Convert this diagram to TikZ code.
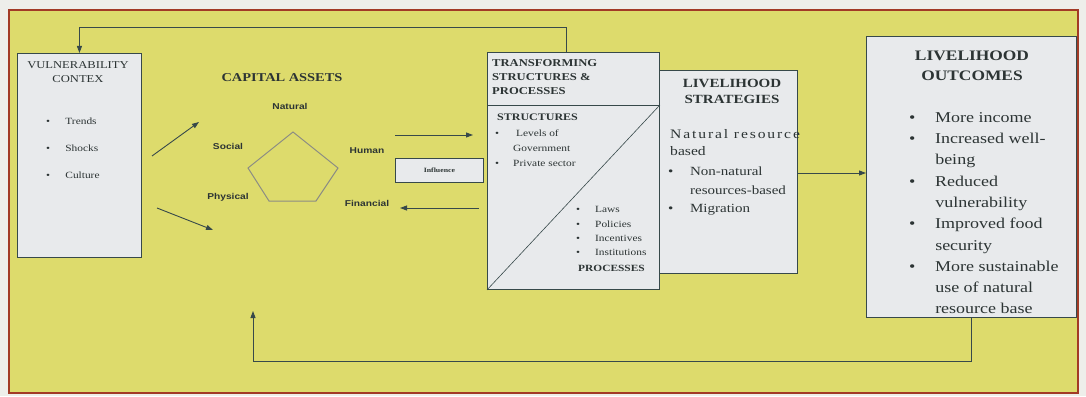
\documentclass[tikz,border=0pt]{standalone}
\usepackage{fontspec}
\setmainfont{Liberation Serif}
\setsansfont{Liberation Sans}
\usepackage{graphicx}
\usetikzlibrary{arrows.meta}
\definecolor{bgout}{HTML}{EEEEEA}
\definecolor{yel}{HTML}{DDDB6C}
\definecolor{boxf}{HTML}{E8EAEC}
\definecolor{linec}{HTML}{37494A}
\definecolor{txtc}{HTML}{2C3434}
\definecolor{framec}{HTML}{A23A26}
\definecolor{pentc}{HTML}{8C8C84}
\newcommand\xs[2][1.2]{\scalebox{#1}[1]{#2}}
\begin{document}
\begin{tikzpicture}[x=1pt,y=-1pt,
  box/.style={draw=linec,fill=boxf,line width=0.9pt,inner sep=0pt,anchor=north west},
  conn/.style={draw=linec,line width=0.9pt},
  arr/.style={conn,-{Triangle[length=7pt,width=5pt]}},
  txt/.style={text=txtc,inner sep=0pt},
  lbl/.style={txt,font=\sffamily\bfseries\fontsize{8.5}{10}\selectfont}]
\useasboundingbox (0,0) rectangle (1086,396);
\fill[bgout] (0,0) rectangle (1086,396);
\filldraw[fill=yel,draw=framec,line width=1.5pt] (9,10) rectangle (1078,393);

% boxes
\node[box,minimum width=124pt,minimum height=204pt] (vc) at (17,53) {};
\node[box,minimum width=138pt,minimum height=203pt] (ls) at (659,70) {};
\node[box,minimum width=172pt,minimum height=237pt] (ts) at (487,52) {};
\node[box,minimum width=210pt,minimum height=281pt] (lo) at (866,36) {};
\node[box,minimum width=88pt,minimum height=24pt,text=txtc,font=\bfseries\fontsize{6.5}{8}\selectfont] (inf) at (395,158) {\xs{Influence}};

% transforming box divisions
\coordinate (divy) at (0,105);
\draw[conn] (ts.west |- divy) -- (ts.east |- divy);
\draw[conn,line width=0.6pt] (ts.south west) -- (ts.east |- divy);

% pentagon
\draw[pentc,line width=1pt] (293,132) -- (338,168) -- (316,201) -- (269,201) -- (248,168) -- cycle;

% texts
\node[txt,anchor=north,font=\fontsize{10.5}{14}\selectfont] (vct) at (78,58.7)
  {\xs{\begin{tabular}{@{}c@{}}VULNERABILITY\\CONTEX\end{tabular}}};
\node[txt,anchor=north west,font=\fontsize{9.5}{27}\selectfont] (vcb) at (46,105)
  {\xs{\begin{tabular}{@{}p{16pt}@{}l@{}}\textbullet&Trends\\\textbullet&Shocks\\\textbullet&Culture\end{tabular}}};

\node[txt,font=\bfseries\fontsize{12}{14}\selectfont] (cap) at (282,78) {\xs{CAPITAL ASSETS}};
\node[lbl] (nat) at (290,106) {\xs{Natural}};
\node[lbl] (soc) at (228,146) {\xs{Social}};
\node[lbl] (hum) at (367,151) {\xs{Human}};
\node[lbl] (phy) at (228,197) {\xs{Physical}};
\node[lbl] (fin) at (367,203) {\xs{Financial}};

\node[txt,anchor=north west,font=\bfseries\fontsize{10.5}{14}\selectfont] (tst) at (492,56.4)
  {\xs{\begin{tabular}{@{}l@{}}TRANSFORMING\\STRUCTURES \&\\PROCESSES\end{tabular}}};
\node[txt,anchor=base west,font=\bfseries\fontsize{10}{12}\selectfont] (str) at (497,120.6) {\xs{STRUCTURES}};
\node[txt,anchor=north west,font=\fontsize{9.5}{15}\selectfont] (strb) at (495,126)
  {\xs{\begin{tabular}{@{}p{15pt}@{}l@{}}\textbullet&\ Levels of\\&Government\\\textbullet&Private sector\end{tabular}}};
\node[txt,anchor=north west,font=\fontsize{9.5}{14.3}\selectfont] (prb) at (576,202.5)
  {\xs{\begin{tabular}{@{}p{15.8pt}@{}l@{}}\textbullet&Laws\\\textbullet&Policies\\\textbullet&Incentives\\\textbullet&Institutions\end{tabular}}};
\node[txt,anchor=base west,font=\bfseries\fontsize{9.5}{12}\selectfont] (prc) at (578,271.3) {\xs{PROCESSES}};

\node[txt,anchor=north,font=\bfseries\fontsize{12.5}{16}\selectfont] (lst) at (732,76.2)
  {\xs{\begin{tabular}{@{}c@{}}LIVELIHOOD\\STRATEGIES\end{tabular}}};
\node[txt,anchor=north west,font=\fontsize{13}{16.7}\selectfont] (lsn) at (670,126.8)
  {\xs{\begin{tabular}{@{}l@{}}{\addfontfeature{LetterSpace=12}Natural resource}\\based\end{tabular}}};
\node[txt,anchor=north west,font=\fontsize{12.5}{18.5}\selectfont] (lsb) at (668,162.5)
  {\xs{\begin{tabular}{@{}p{18.3pt}@{}l@{}}\textbullet&Non-natural\\&resources-based\\\textbullet&Migration\end{tabular}}};

\node[txt,anchor=north,font=\bfseries\fontsize{14.5}{20}\selectfont] (lot) at (972,45.8)
  {\xs{\begin{tabular}{@{}c@{}}LIVELIHOOD\\OUTCOMES\end{tabular}}};
\node[txt,anchor=north west,font=\fontsize{15}{21.3}\selectfont] (lob) at (909,107.1)
  {\xs{\begin{tabular}{@{}p{21.7pt}@{}l@{}}\textbullet&More income\\\textbullet&Increased well-\\&being\\\textbullet&Reduced\\&vulnerability\\\textbullet&Improved food\\&security\\\textbullet&More sustainable\\&use of natural\\&resource base\end{tabular}}};

% connectors
\coordinate (topA) at (566,27);
\draw[arr] (ts.north -| topA) -- (topA) -- (topA -| vc.north) -- (vc.north);
\coordinate (botA) at (253,361);
\coordinate (botE) at (253,311);
\draw[arr] (lo.south) |- (botA) -- (botE);
\coordinate (v1s) at (152,156);
\coordinate (v1e) at (199,122);
\coordinate (v2s) at (157,208);
\coordinate (v2e) at (213,230);
\draw[arr] (v1s) -- (v1e);
\draw[arr] (v2s) -- (v2e);
\coordinate (hs) at (395,135);
\coordinate (he) at (473,135);
\draw[arr] (hs) -- (he);
\coordinate (fs) at (479,208);
\coordinate (fe) at (400,208);
\draw[arr] (fs) -- (fe);
\coordinate (mid) at (830,173);
\draw[arr] (ls.east |- mid) -- (lo.west |- mid);
\end{tikzpicture}
\end{document}
